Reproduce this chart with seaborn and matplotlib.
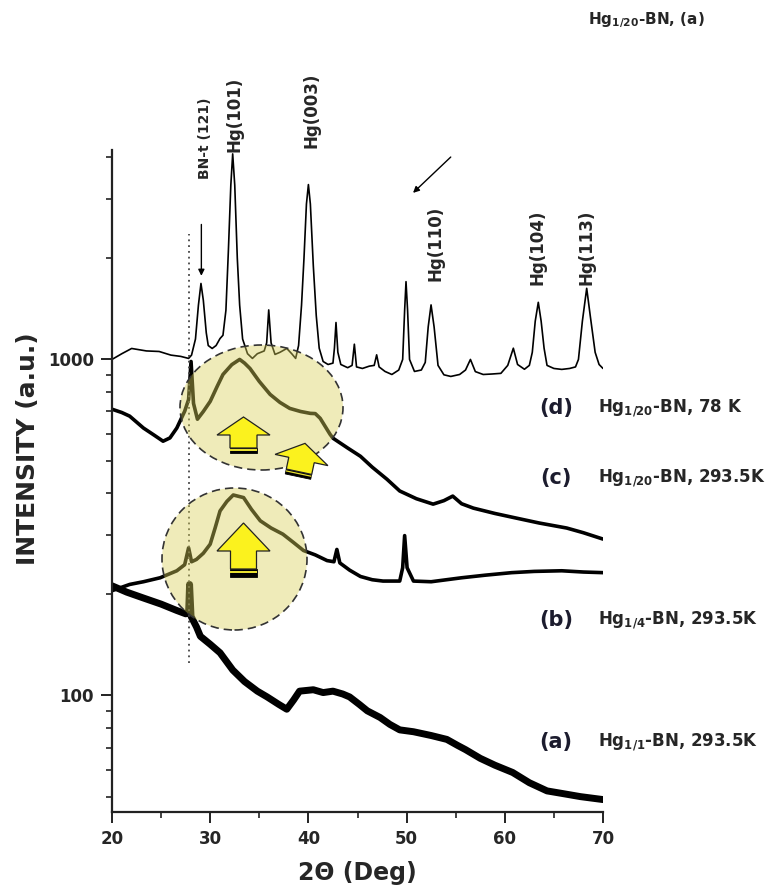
import numpy as np
import pandas as pd
import matplotlib
matplotlib.use("Agg")
import matplotlib.pyplot as plt
import seaborn as sns
from matplotlib.patches import Ellipse, Polygon
from matplotlib.ticker import FixedLocator, LogLocator, MultipleLocator, NullFormatter, FuncFormatter

# ---------------------------------------------------------------------------
# DATA: (2theta in deg, intensity in a.u.)
# ---------------------------------------------------------------------------
D_78K = [(20.0, 1000), (21.0, 1040), (22.0, 1078), (23.5, 1060), (24.8, 1056), (26.0, 1030),
         (27.0, 1021), (27.8, 1007), (28.1, 1030), (28.5, 1150), (28.8, 1450), (29.06, 1683),
         (29.3, 1500), (29.6, 1200), (29.8, 1100), (30.2, 1078), (30.6, 1100), (31.0, 1154),
         (31.3, 1180), (31.6, 1400), (31.85, 2100), (32.1, 3300), (32.29, 4090), (32.5, 3300),
         (32.76, 2000), (33.0, 1450), (33.3, 1150), (33.8, 1040), (34.3, 1007), (34.8, 1040),
         (35.5, 1060), (35.75, 1120), (35.96, 1404), (36.2, 1120), (36.6, 1035), (37.1, 1050),
         (37.8, 1078), (38.3, 1040), (38.7, 1007), (39.0, 1100), (39.3, 1450), (39.55, 2000),
         (39.8, 2900), (40.0, 3314), (40.2, 2900), (40.5, 1900), (40.8, 1350), (41.1, 1080),
         (41.5, 986), (42.0, 966), (42.5, 975), (42.65, 1080), (42.81, 1288), (43.0, 1050),
         (43.3, 966), (44.0, 945), (44.45, 960), (44.68, 1110), (44.9, 950), (45.5, 940),
         (46.2, 955), (46.7, 960), (46.95, 1032), (47.2, 950), (47.8, 921), (48.5, 902),
         (49.2, 930), (49.6, 1000), (49.8, 1400), (49.94, 1704), (50.1, 1400), (50.3, 1000),
         (50.8, 921), (51.5, 930), (51.9, 980), (52.2, 1250), (52.49, 1453), (52.8, 1250),
         (53.2, 960), (53.8, 900), (54.5, 890), (55.4, 902), (56.0, 930), (56.5, 1000),
         (57.0, 920), (57.8, 902), (58.7, 905), (59.6, 909), (60.3, 960), (60.87, 1080),
         (61.3, 966), (62.0, 935), (62.5, 960), (62.8, 1050), (63.1, 1300), (63.41, 1479),
         (63.7, 1300), (64.0, 1080), (64.3, 960), (65.0, 940), (65.8, 934), (66.6, 940),
         (67.2, 950), (67.5, 1000), (67.9, 1300), (68.34, 1628), (68.7, 1350), (69.2, 1050),
         (69.6, 966), (70.0, 940)]

C_293K = [(20.0, 711), (21.0, 695), (21.8, 678), (23.2, 625), (24.3, 595), (25.2, 571),
          (25.9, 584), (26.6, 625), (27.4, 701), (27.8, 760), (28.05, 986), (28.3, 740),
          (28.7, 664), (29.3, 700), (30.0, 750), (30.7, 830), (31.3, 902), (32.2, 965),
          (33.0, 1000), (33.5, 975), (34.05, 940), (35.0, 860), (36.1, 787), (37.1, 745),
          (38.1, 715), (39.2, 700), (40.2, 691), (40.7, 690), (41.2, 668), (42.2, 599),
          (42.5, 583), (44.0, 545), (45.3, 515), (46.5, 478), (48.0, 440), (49.3, 406),
          (51.0, 385), (52.7, 371), (53.8, 380), (54.7, 392), (55.6, 372), (56.8, 361),
          (59.0, 348), (61.2, 337), (63.5, 326), (66.3, 315), (68.0, 305), (70.0, 292)]

B_293K = [(20.0, 205), (21.8, 214), (23.2, 218), (24.9, 224), (26.6, 235), (27.4, 245),
          (27.8, 275), (28.1, 250), (28.6, 254), (29.3, 265), (30.0, 282), (30.5, 315),
          (31.0, 354), (31.7, 378), (32.35, 395), (33.4, 388), (34.2, 358), (35.1, 331),
          (36.2, 315), (37.4, 302), (38.5, 285), (39.5, 270), (40.7, 262), (41.9, 252),
          (42.6, 250), (42.9, 272), (43.2, 248), (44.2, 236), (45.3, 226), (46.5, 221),
          (47.6, 219), (49.3, 219), (49.6, 240), (49.8, 299), (50.05, 240), (50.7, 219),
          (52.5, 218), (55.6, 224), (58.0, 228), (60.7, 232), (63.0, 234), (65.8, 235),
          (68.0, 233), (70.0, 232)]

A_293K = [(20.0, 212), (21.5, 203), (23.2, 195), (25.0, 187), (26.6, 179), (27.5, 175),
          (27.8, 176), (27.9, 214), (28.05, 172), (28.6, 160), (29.0, 150), (30.0, 142),
          (31.0, 134), (32.3, 119), (33.5, 110), (34.8, 103), (35.8, 99), (37.0, 94),
          (37.8, 91), (38.5, 97), (39.1, 103), (40.5, 104), (41.5, 102), (42.5, 103),
          (43.5, 101), (44.2, 99), (45.2, 94), (46.0, 90), (47.3, 86), (48.3, 82),
          (49.3, 79), (50.7, 78), (52.5, 76), (54.1, 74), (55.2, 71), (56.0, 69),
          (57.5, 65), (59.0, 62), (60.8, 59), (62.5, 55), (64.3, 52), (66.0, 51),
          (67.7, 50), (70.0, 49)]

SAMPLE_TAGS = ["(d)", "(c)", "(b)", "(a)"]
SAMPLE_NAMES = [r"Hg$_{1/20}$-BN, 78 K", r"Hg$_{1/20}$-BN, 293.5K",
                r"Hg$_{1/4}$-BN, 293.5K", r"Hg$_{1/1}$-BN, 293.5K"]

PEAK_LABELS = ["BN-t (121)", "Hg(101)", "Hg(003)", "Hg(110)", "Hg(104)", "Hg(113)"]
PEAK_LABEL_X = [29.47, 32.5, 40.3, 52.9, 63.3, 68.3]
PEAK_LABEL_Y = [4560, 5370, 5520, 2210, 2160, 2150]

BN_LINE_X = 27.8

# ---------------------------------------------------------------------------
# FIGURE
# ---------------------------------------------------------------------------
W, H = 773, 890
sns.set_style("ticks")
plt.rcParams["font.family"] = ["DejaVu Sans"]
plt.rcParams["font.weight"] = "bold"
plt.rcParams["mathtext.fontset"] = "dejavusans"
plt.rcParams["mathtext.default"] = "bf"


def fxy(px, py):
    # reference pixel -> figure fraction
    return px / W, 1 - py / H


fig = plt.figure(figsize=(W / 100, H / 100), dpi=100)
ax = fig.add_axes([112 / W, 78 / H, 491 / W, 662 / H])

traces = [(D_78K, 1.2), (C_293K, 2.6), (B_293K, 2.6), (A_293K, 5.0)]
for pts, lw in traces:
    df = pd.DataFrame(pts, columns=["two_theta", "counts"])
    sns.lineplot(data=df, x="two_theta", y="counts", ax=ax, color="black",
                 linewidth=lw, estimator=None, sort=False, zorder=2)

ax.set_yscale("log")
ax.set_xlim(20, 70)
ax.set_ylim(45, 4200)
ax.xaxis.set_major_locator(MultipleLocator(10))
ax.xaxis.set_minor_locator(MultipleLocator(5))
ax.yaxis.set_major_locator(FixedLocator([100, 1000]))
ax.yaxis.set_major_formatter(FuncFormatter(lambda v, p: f"{v:.0f}"))
ax.yaxis.set_minor_locator(LogLocator(base=10, subs=np.arange(2, 10)))
ax.yaxis.set_minor_formatter(NullFormatter())
ax.tick_params(which="major", length=8, width=1.4, labelsize=12, pad=5, color="#222222")
ax.tick_params(which="minor", length=4.5, width=1.2, color="#222222")
sns.despine(ax=ax)
for s in ["left", "bottom"]:
    ax.spines[s].set_linewidth(1.6)
    ax.spines[s].set_color("#222222")

ax.set_xlabel("2\u0398 (Deg)", fontsize=17, fontweight="bold")
ax.set_ylabel("INTENSITY (a.u.)", fontsize=18, fontweight="bold")
ax.xaxis.set_label_coords(0.5, (812 - 873) / 662)
ax.xaxis.label.set_va("center")
ax.yaxis.set_label_coords((28 - 112) / 491, (812 - 449) / 662)
ax.yaxis.label.set_va("center")

# dotted marker line at the BN feature
ax.vlines(BN_LINE_X, 125, 2366, colors="#444444", linestyles=(0, (1, 2.2)), linewidth=1.3, zorder=2)

# peak labels and pointer arrows
for lab, x, y in zip(PEAK_LABELS, PEAK_LABEL_X, PEAK_LABEL_Y):
    ax.text(x, y, lab, rotation=90, ha="center", va="center",
            fontsize=10 if lab.startswith("BN") else 12, fontweight="bold",
            clip_on=False, zorder=5)
ax.annotate("", xy=(29.1, 1740), xytext=(29.1, 2570),
            arrowprops=dict(arrowstyle="-|>", color="black", lw=1.0, mutation_scale=9))
ax.annotate("", xy=(50.45, 3090), xytext=(54.7, 4055), annotation_clip=False,
            arrowprops=dict(arrowstyle="-|>", color="black", lw=1.0, mutation_scale=9))

# highlight ellipses (pixel based so they stay round on a log axis)
for cx, cy, w, h in [(261.5, 407.5, 163, 125), (234.5, 559, 145, 142)]:
    e = Ellipse(fxy(cx, cy), w / W, h / H, transform=fig.transFigure,
                facecolor=(0.85, 0.82, 0.35, 0.42), edgecolor="#333333",
                linestyle=(0, (5, 3)), linewidth=1.2, zorder=3, clip_on=False)
    ax.add_patch(e)


def block_arrow(bx, by, hw, hh, sw, sh, bh, angle=0.0):
    a = np.deg2rad(angle)
    rot = np.array([[np.cos(a), -np.sin(a)], [np.sin(a), np.cos(a)]])

    def place(pts):
        p = np.asarray(pts, float) @ rot.T + [bx, by]
        return [fxy(x, y) for x, y in p]

    body = [(0, -hh), (hw / 2, 0), (sw / 2, 0), (sw / 2, sh), (-sw / 2, sh), (-sw / 2, 0), (-hw / 2, 0)]
    bar = [(-sw / 2, sh), (sw / 2, sh), (sw / 2, sh + bh), (-sw / 2, sh + bh)]
    stripe = [(-sw / 2, sh + bh * 0.25), (sw / 2, sh + bh * 0.25),
              (sw / 2, sh + bh * 0.5), (-sw / 2, sh + bh * 0.5)]
    ax.add_patch(Polygon(place(bar), closed=True, transform=fig.transFigure,
                         facecolor="black", edgecolor="black", lw=0.6, zorder=4, clip_on=False))
    ax.add_patch(Polygon(place(stripe), closed=True, transform=fig.transFigure,
                         facecolor="#e8e030", edgecolor="none", zorder=4, clip_on=False))
    ax.add_patch(Polygon(place(body), closed=True, transform=fig.transFigure,
                         facecolor="#fbf21e", edgecolor="#222222", lw=0.9, zorder=4, clip_on=False))


block_arrow(243.5, 435, 53, 18, 27, 13, 5)
block_arrow(301.5, 460, 54, 17, 26, 12, 5, angle=12)
block_arrow(243.5, 551, 53, 28, 26, 18, 8)

# sample labels on the right
for tag, name, py in zip(SAMPLE_TAGS, SAMPLE_NAMES, [408, 478, 620, 742]):
    fig.text(*fxy(556, py), tag, ha="center", va="center", fontsize=15,
             fontweight="bold", color="#1c1c2e")
    fig.text(*fxy(598, py), name, ha="left", va="center", fontsize=12, fontweight="bold")

fig.text(*fxy(646, 20), r"Hg$_{1/20}$-BN, (a)", ha="center", va="center",
         fontsize=11, fontweight="bold")

fig.savefig("out.png", dpi=100)
